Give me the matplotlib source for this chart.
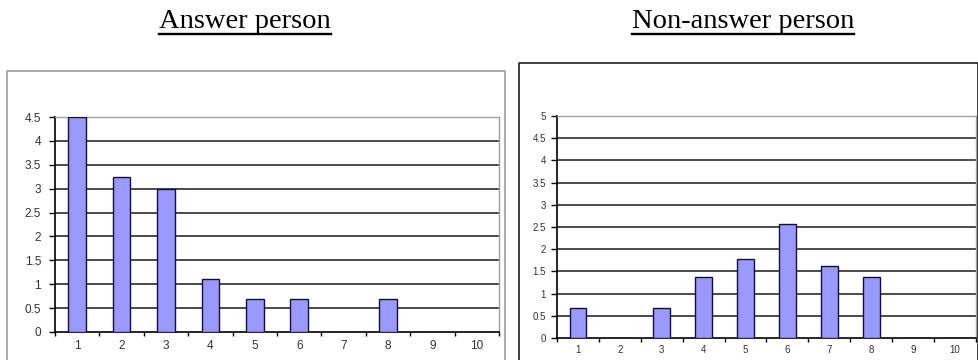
import matplotlib
matplotlib.use("Agg")
import matplotlib.pyplot as plt
from matplotlib.lines import Line2D
import numpy as np

categories = [1, 2, 3, 4, 5, 6, 7, 8, 9, 10]
answer_values = [4.5, 3.25, 3.0, 1.1, 0.7, 0.7, 0.0, 0.7, 0.0, 0.0]
nonanswer_values = [0.68, 0.0, 0.68, 1.37, 1.78, 2.56, 1.62, 1.37, 0.0, 0.0]
answer_yticks = [0, 0.5, 1, 1.5, 2, 2.5, 3, 3.5, 4, 4.5]
nonanswer_yticks = [0, 0.5, 1, 1.5, 2, 2.5, 3, 3.5, 4, 4.5, 5]
titles = ["Answer person", "Non-answer person"]

W, H = 979, 360
fig = plt.figure(figsize=(W / 100, H / 100), dpi=100)
fig.patch.set_facecolor("white")

def px_rect(x0, x1, ytop, ybot):
    return [x0 / W, 1 - ybot / H, (x1 - x0) / W, (ybot - ytop) / H]

# outer chart frames (drawn as figure lines)
def frame(x0, x1, ytop, color, lw):
    xs = [x0 / W, x0 / W, x1 / W, x1 / W]
    ys = [-0.05, 1 - ytop / H, 1 - ytop / H, -0.05]
    fig.add_artist(Line2D(xs, ys, color=color, lw=lw, transform=fig.transFigure))

frame(7.5, 505, 71, "#a6a6a6", 1.3)
frame(519, 978, 63, "#303030", 1.3)

def make_axes(rect, values, yticks, fs, xpad, ypad):
    ax = fig.add_axes(rect)
    ax.set_xlim(0.5, 10.5)
    ax.set_ylim(0, yticks[-1])
    for y in yticks[1:-1]:
        ax.axhline(y, color="#1a1a1a", lw=1.1, zorder=1)
    ax.bar(categories, values, width=0.4, color="#9999ff",
           edgecolor="#101040", linewidth=1.0, zorder=3)
    ax.set_yticks(yticks)
    ax.set_yticklabels([("%g" % t) for t in yticks], fontsize=fs,
                       family="Liberation Sans", color="#333333")
    ax.set_xticks(categories)
    ax.set_xticklabels([str(c) for c in categories], fontsize=fs,
                       family="Liberation Sans", color="#333333")
    ax.set_xticks(np.arange(0.5, 11, 1.0), minor=True)
    ax.tick_params(axis="x", which="major", length=0, pad=xpad)
    ax.tick_params(axis="x", which="minor", length=3, width=1, direction="out")
    ax.tick_params(axis="y", length=4, width=1, direction="out", pad=ypad)
    for s in ["top", "right"]:
        ax.spines[s].set_color("#a0a0a0")
        ax.spines[s].set_linewidth(1.0)
    for s in ["left", "bottom"]:
        ax.spines[s].set_color("#000000")
        ax.spines[s].set_linewidth(1.2)
    ax.set_facecolor("white")
    return ax

ax1 = make_axes(px_rect(55, 499, 117, 332), answer_values, answer_yticks, 8.5, 6, 6)
ax2 = make_axes(px_rect(557, 976, 116, 338), nonanswer_values, nonanswer_yticks, 7, 5, 4)

# underlined titles
title_centers = [245, 743]
txts = []
for t, cx in zip(titles, title_centers):
    txt = fig.text(cx / W, 1 - 28.5 / H, t, ha="center", va="baseline",
                   fontsize=20.5, family="Liberation Serif", color="black")
    txts.append(txt)

fig.canvas.draw()
r = fig.canvas.get_renderer()
for txt in txts:
    bb = txt.get_window_extent(r)
    yline = 1 - 33.5 / H
    fig.add_artist(Line2D([bb.x0 / W, bb.x1 / W], [yline, yline], color="black",
                          lw=1.7, transform=fig.transFigure))

fig.savefig("out.png", dpi=100, facecolor="white")
